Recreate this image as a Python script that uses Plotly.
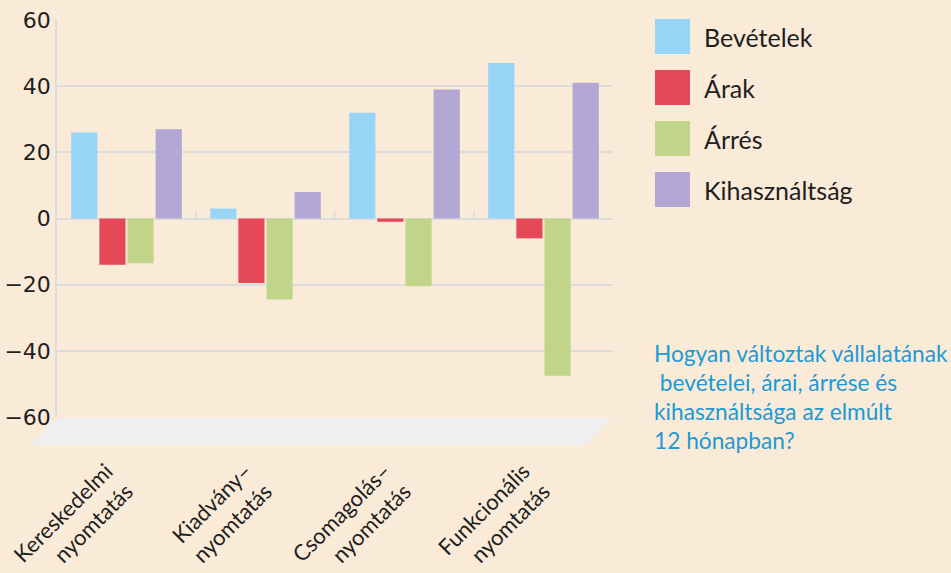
import plotly.graph_objects as go

categories = ["Kereskedelmi<br>nyomtatás", "Kiadvány–<br>nyomtatás",
              "Csomagolás–<br>nyomtatás", "Funkcionális<br>nyomtatás"]
series_names = ["Bevételek", "Árak", "Árrés", "Kihasználtság"]
bevetelek = [26, 3, 32, 47]
arak = [-14, -19.5, -1, -6]
arres = [-13.5, -24.5, -20.5, -47.5]
kihasznaltsag = [27, 8, 39, 41]
y_ticks = [-60, -40, -20, 0, 20, 40, 60]
question_lines = ["Hogyan változtak vállalatának", "\u00a0bevételei, árai, árrése és",
                  "kihasználtsága az elmúlt", "12 hónapban?"]

colors = ["#97D4F5", "#E54958", "#C2D488", "#B3A7D3"]
series_values = [bevetelek, arak, arres, kihasznaltsag]
BG = "#FAEAD8"
GRID = "#DCDCDC"

W, H = 951, 573
L, R, T, B = 57, 613, 20, 417   # plot area in pixels
pw, ph = R - L, B - T

def px(x):
    return (x - L) / pw

def py(y):
    return (B - y) / ph

fig = go.Figure()
for name, vals, col in zip(series_names, series_values, colors):
    fig.add_trace(go.Bar(x=categories, y=vals, name=name, marker_color=col,
                         marker_line_width=0, showlegend=False))

# tick label text, padded so the rotated labels sit like the reference
pad = "\u00a0" * 5
tick_text = ["<br>".join(part + pad for part in c.split("<br>")) for c in categories]

shapes = []
# floor parallelogram
shapes.append(dict(type="path", xref="paper", yref="paper",
                   path=f"M {px(57)},{py(418)} L {px(611)},{py(418)} L {px(586)},{py(445)} L {px(30)},{py(445)} Z",
                   fillcolor="#EFEFEF", line_width=0, layer="below"))
# small separators at zero line between groups
for i in range(1, len(categories)):
    shapes.append(dict(type="line", xref="x", yref="y", x0=i - 0.5, x1=i - 0.5,
                       y0=0, y1=2.4, line=dict(color=GRID, width=1.5), layer="below"))

annotations = []
# custom legend
for i, (name, col) in enumerate(zip(series_names, colors)):
    top = 19 + i * 51
    shapes.append(dict(type="rect", xref="paper", yref="paper",
                       x0=px(655), x1=px(690), y0=py(top + 35), y1=py(top),
                       fillcolor=col, line_width=0))
    annotations.append(dict(xref="paper", yref="paper", x=px(702), y=py(top + 18),
                            text=name, showarrow=False, xanchor="left", yanchor="middle",
                            font=dict(family="Lato", size=25, color="#1E1E1E")))
# question text
for i, line in enumerate(question_lines):
    annotations.append(dict(xref="paper", yref="paper", x=px(652), y=py(353 + i * 29),
                            text=line, showarrow=False, xanchor="left", yanchor="middle",
                            font=dict(family="Lato", size=22.7, color="#1B9AD6")))

fig.update_layout(
    width=W, height=H, autosize=False,
    margin=dict(l=L, r=W - R, t=T, b=H - B, pad=0, autoexpand=False),
    paper_bgcolor=BG, plot_bgcolor=BG,
    barmode="group", bargap=0.19, bargroupgap=0.07,
    shapes=shapes, annotations=annotations,
    showlegend=False,
)
fig.update_yaxes(range=[-60, 60], tickvals=y_ticks, showgrid=True, gridcolor=GRID, gridwidth=1.5,
                 zeroline=True, zerolinecolor=GRID, zerolinewidth=1.5,
                 showline=True, linecolor=GRID, linewidth=1.5, automargin=False,
                 tickfont=dict(family="DejaVu Sans", size=22, color="#1E1E1E"), ticks="")
fig.update_xaxes(showgrid=False, zeroline=False, showline=False, tickangle=-45, automargin=False,
                 tickvals=categories, ticktext=tick_text,
                 ticks="outside", ticklen=12, tickcolor="rgba(0,0,0,0)",
                 tickfont=dict(family="Lato", size=22, color="#1E1E1E"))

fig.write_html("out.html", config={"responsive": False, "displayModeBar": False},
               post_script="document.body.style.margin='0';")
